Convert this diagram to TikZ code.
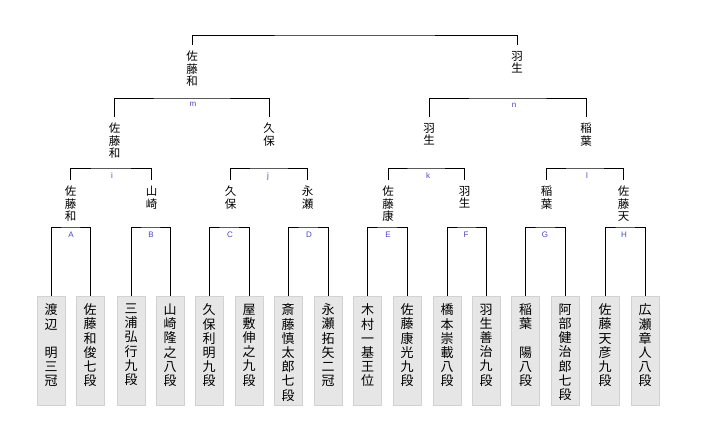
\documentclass[tikz,border=0pt]{standalone}
\usepackage{fontspec}
\newfontfamily\cjk{Noto Sans CJK JP}
\newfontfamily\latn{Liberation Sans}
\definecolor{tagblue}{RGB}{72,72,192}
\definecolor{boxfill}{RGB}{230,230,230}
\definecolor{boxline}{RGB}{210,210,210}
\newcommand\vcol[1]{\parbox[t][94pt][t]{20pt}{\centering #1}}
\tikzset{
  pbox/.style={draw=boxline, fill=boxfill, anchor=north, minimum width=28pt,
    inner xsep=0pt, inner ysep=7.5pt, line width=0.8pt,
    font=\cjk\fontsize{13}{14.2}\selectfont},
  win/.style={anchor=north, inner xsep=1pt, inner ysep=6pt, align=center,
    font=\cjk\fontsize{11.5}{12.4}\selectfont},
  tag/.style={anchor=base, inner sep=0pt, text=tagblue,
    font=\latn\fontsize{8}{9}\selectfont},
  link/.style={draw=black, line width=1pt}
}
\begin{document}
\begin{tikzpicture}[x=1pt,y=-1pt]
\fill[white] (0,0) rectangle (702,421);
\useasboundingbox (0,0) rectangle (702,421);
% players
\node[pbox] (p1)  at (51,296)  {\vcol{渡\\辺\\　\\明\\三\\冠}};
\node[pbox] (p2)  at (90,296)  {\vcol{佐\\藤\\和\\俊\\七\\段}};
\node[pbox] (p3)  at (131,296) {\vcol{三\\浦\\弘\\行\\九\\段}};
\node[pbox] (p4)  at (170,296) {\vcol{山\\崎\\隆\\之\\八\\段}};
\node[pbox] (p5)  at (209,296) {\vcol{久\\保\\利\\明\\九\\段}};
\node[pbox] (p6)  at (249,296) {\vcol{屋\\敷\\伸\\之\\九\\段}};
\node[pbox] (p7)  at (288,296) {\vcol{斎\\藤\\慎\\太\\郎\\七\\段}};
\node[pbox] (p8)  at (328,296) {\vcol{永\\瀬\\拓\\矢\\二\\冠}};
\node[pbox] (p9)  at (367.5,296) {\vcol{木\\村\\一\\基\\王\\位}};
\node[pbox] (p10) at (407,296) {\vcol{佐\\藤\\康\\光\\九\\段}};
\node[pbox] (p11) at (447,296) {\vcol{橋\\本\\崇\\載\\八\\段}};
\node[pbox] (p12) at (486,296) {\vcol{羽\\生\\善\\治\\九\\段}};
\node[pbox] (p13) at (525.5,296) {\vcol{稲\\葉\\　\\陽\\八\\段}};
\node[pbox] (p14) at (565,296) {\vcol{阿\\部\\健\\治\\郎\\七\\段}};
\node[pbox] (p15) at (605,296) {\vcol{佐\\藤\\天\\彦\\九\\段}};
\node[pbox] (p16) at (645,296) {\vcol{広\\瀬\\章\\人\\八\\段}};
% first-round junctions
\coordinate (bA) at (70.5,227);
\coordinate (bB) at (150.5,227);
\coordinate (bC) at (229,227);
\coordinate (bD) at (308,227);
\coordinate (bE) at (387.25,227);
\coordinate (bF) at (466.5,227);
\coordinate (bG) at (545.25,227);
\coordinate (bH) at (625,227);
\draw[link] (p1.north)  |- (bA) -| (p2.north);
\draw[link] (p3.north)  |- (bB) -| (p4.north);
\draw[link] (p5.north)  |- (bC) -| (p6.north);
\draw[link] (p7.north)  |- (bD) -| (p8.north);
\draw[link] (p9.north)  |- (bE) -| (p10.north);
\draw[link] (p11.north) |- (bF) -| (p12.north);
\draw[link] (p13.north) |- (bG) -| (p14.north);
\draw[link] (p15.north) |- (bH) -| (p16.north);
\node[tag] (tA) at (71,237)  {A};
\node[tag] (tB) at (151,237) {B};
\node[tag] (tC) at (230,237) {C};
\node[tag] (tD) at (309,237) {D};
\node[tag] (tE) at (388,237) {E};
\node[tag] (tF) at (466,237) {F};
\node[tag] (tG) at (545,237) {G};
\node[tag] (tH) at (624,237) {H};
% first-round winners
\node[win] (wA) at (70.5,180)  {佐\\藤\\和};
\node[win] (wB) at (151.5,180) {山\\崎};
\node[win] (wC) at (230.5,180) {久\\保};
\node[win] (wD) at (307.5,180) {永\\瀬};
\node[win] (wE) at (388,180)   {佐\\藤\\康};
\node[win] (wF) at (464.5,180) {羽\\生};
\node[win] (wG) at (546.5,180) {稲\\葉};
\node[win] (wH) at (623.5,180) {佐\\藤\\天};
% second round
\coordinate (bi) at (111,168);
\coordinate (bj) at (269,168);
\coordinate (bk) at (426,168);
\coordinate (bl) at (585,168);
\draw[link] (wA.north) |- (bi) -| (wB.north);
\draw[link] (wC.north) |- (bj) -| (wD.north);
\draw[link] (wE.north) |- (bk) -| (wF.north);
\draw[link] (wG.north) |- (bl) -| (wH.north);
\node[tag] (ti) at (112,178) {i};
\node[tag] (tj) at (268,178) {j};
\node[tag] (tk) at (428,178) {k};
\node[tag] (tl) at (587,178) {l};
\node[win] (wi) at (114.5,117) {佐\\藤\\和};
\node[win] (wj) at (269,117)   {久\\保};
\node[win] (wk) at (429,117)   {羽\\生};
\node[win] (wl) at (586,117)   {稲\\葉};
% semifinals
\coordinate (bm) at (192,98);
\coordinate (bn) at (507.5,98);
\draw[link] (wi.north) |- (bm) -| (wj.north);
\draw[link] (wk.north) |- (bn) -| (wl.north);
\node[tag] (tm) at (193,106) {m};
\node[tag] (tn) at (514,107) {n};
\node[win] (wm) at (192,45)   {佐\\藤\\和};
\node[win] (wn) at (517,45)   {羽\\生};
% final
\coordinate (bf) at (354.5,35);
\draw[link] (wm.north) |- (bf) -| (wn.north);
\end{tikzpicture}
\end{document}
